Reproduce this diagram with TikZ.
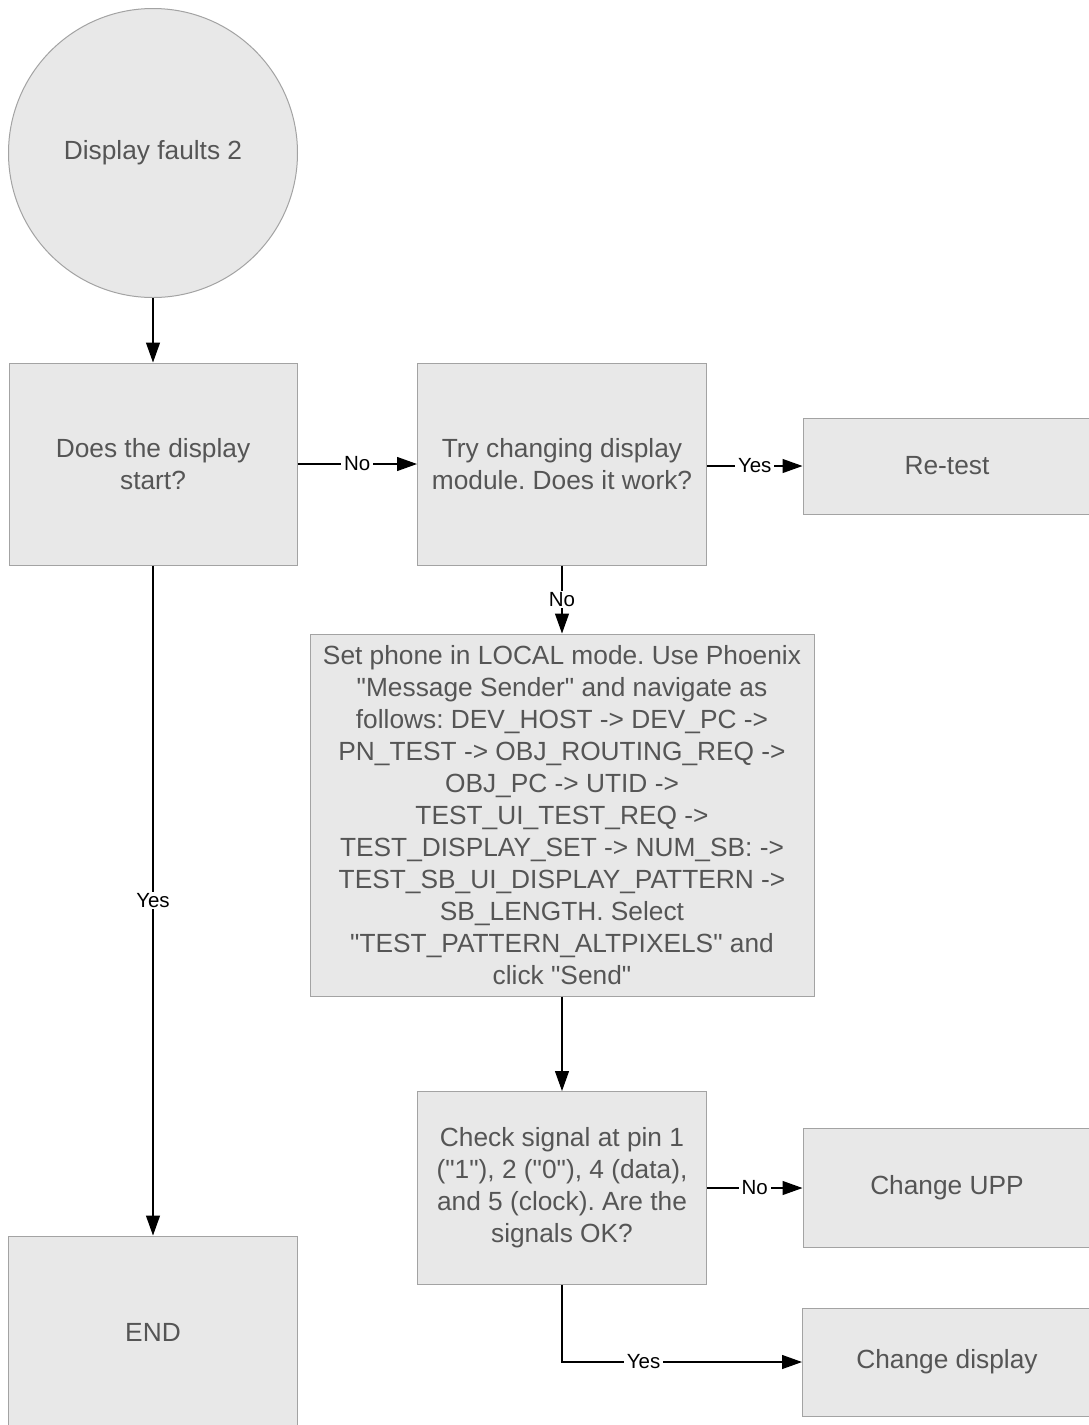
\documentclass[tikz,border=0pt]{standalone}
\usepackage{fontspec}
\setmainfont{Liberation Sans}[Ligatures=TeXOff]
\usetikzlibrary{arrows.meta}
\definecolor{boxfill}{RGB}{232,232,232}
\definecolor{boxline}{RGB}{163,163,163}
\definecolor{boxtext}{RGB}{85,85,85}
\frenchspacing

\begin{document}
\begin{tikzpicture}[x=1pt, y=-1pt, >={Triangle[length=20pt,width=14pt]},
  block/.style={draw=boxline, fill=boxfill, text=boxtext, line width=1pt,
                align=center, inner sep=0pt,
                font=\fontsize{26.3}{32}\selectfont},
  lbl/.style={fill=white, text=black, inner xsep=3pt, inner ysep=1pt,
              font=\fontsize{20.5}{24}\selectfont},
  flow/.style={->, line width=1.2pt, black}]
  \useasboundingbox (0,0) rectangle (1088,1425);
  \fill[white] (0,0) rectangle (1088,1425);

  % start and first question
  \node[block, circle, minimum size=289pt] (start) at (153,153) {Display faults 2};
  \node[block, minimum width=288pt, minimum height=202pt] (q1) at (153,464)
       {Does the display\\start?};
  \node[block, minimum width=289pt, minimum height=202pt] (q2) at (562,464)
       {Try changing display\\module. Does it work?};
  \node[block, minimum width=288pt, minimum height=96pt] (retest) at (947,466) {Re-test};

  % message sender step
  \node[block, minimum width=504pt, minimum height=362pt] (action) at (562,815)
       {Set phone in LOCAL mode. Use Phoenix\\
        "Message Sender" and navigate as\\
        follows: DEV\_HOST -> DEV\_PC ->\\
        PN\_TEST -> OBJ\_ROUTING\_REQ ->\\
        OBJ\_PC -> UTID ->\\
        TEST\_UI\_TEST\_REQ ->\\
        TEST\_DISPLAY\_SET -> NUM\_SB: ->\\
        TEST\_SB\_UI\_DISPLAY\_PATTERN ->\\
        SB\_LENGTH. Select\\
        "TEST\_PATTERN\_ALTPIXELS" and\\
        click "Send"};

  % signal check and outcomes
  \node[block, minimum width=289pt, minimum height=193pt] (q3) at (562,1188)
       {Check signal at pin 1\\("1"), 2 ("0"), 4 (data),\\and 5 (clock). Are the\\signals OK?};
  \node[block, minimum width=288pt, minimum height=119pt] (upp) at (947,1188) {Change UPP};
  \node[block, minimum width=289pt, minimum height=108pt] (chdisp) at (947,1362) {Change display};
  \node[block, minimum width=289pt, minimum height=192pt] (finish) at (153,1332) {END};

  \draw[flow] (start) -- (q1);
  \draw[flow] (q1) -- node[lbl] {No} (q2);
  \draw[flow] (q2.east |- retest.west) -- node[lbl] {Yes} (retest.west);
  \draw[flow] (q2) -- node[lbl] {No} (action);
  \draw[flow] (q1) -- node[lbl] {Yes} (finish);
  \draw[flow] (action) -- (q3);
  \draw[flow] (q3) -- node[lbl] {No} (upp);
  \draw[flow] (q3.south) |- node[lbl, pos=0.67] {Yes} (chdisp.west);
\end{tikzpicture}
\end{document}
